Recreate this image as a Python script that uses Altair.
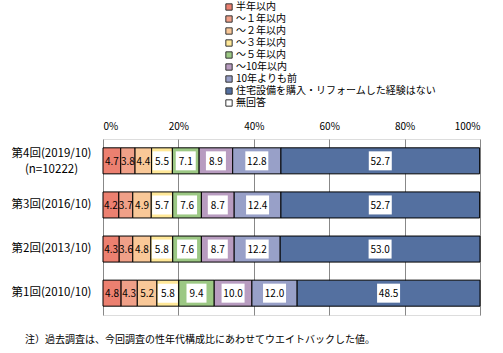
import altair as alt
import pandas as pd

rounds = ["第4回(2019/10)", "第3回(2016/10)", "第2回(2013/10)", "第1回(2010/10)"]
categories = ["半年以内", "～１年以内", "～２年以内", "～３年以内", "～５年以内", "～10年以内",
              "10年よりも前", "住宅設備を購入・リフォームした経験はない", "無回答"]
colors = ["#EC8070", "#F0A088", "#F9C898", "#FFE898", "#9CC884", "#B89CC0",
          "#98A0C8", "#5470A0", "#FFFFFF"]
v4 = [4.7, 3.8, 4.4, 5.5, 7.1, 8.9, 12.8, 52.7, 0.0]
v3 = [4.2, 3.7, 4.9, 5.7, 7.6, 8.7, 12.4, 52.7, 0.0]
v2 = [4.3, 3.6, 4.8, 5.8, 7.6, 8.7, 12.2, 53.0, 0.0]
v1 = [4.8, 4.3, 5.2, 5.8, 9.4, 10.0, 12.0, 48.5, 0.0]
xticks = [0, 20, 40, 60, 80, 100]
note = "注）過去調査は、今回調査の性年代構成比にあわせてウエイトバックした値。"
sub_label = "(n=10222)"

rows = []
for r, vals in zip(rounds, [v4, v3, v2, v1]):
    start = 0.0
    for i, (c, v) in enumerate(zip(categories, vals)):
        rows.append({"round": r, "cat": c, "idx": i, "value": v,
                     "start": start, "end": start + v})
        start += v
df = pd.DataFrame(rows)

FONT = "Noto Sans CJK JP"
PX = 100 / 377.0  # percent per pixel

base = alt.Chart(df).transform_filter("datum.value > 0")

first_test = f"datum.value == '{rounds[0]}'"
yenc = alt.Y("round:N", sort=rounds,
             scale=alt.Scale(paddingInner=0.41, paddingOuter=0.2),
             axis=alt.Axis(title=None, domain=False, ticks=False, labelAlign="center",
                           labelPadding=52, labelFontSize=11.5, labelFont=FONT,
                           labelColor="#000", labelBaseline="middle", labelLineHeight=16,
                           labelOffset=alt.condition(first_test, alt.value(-7), alt.value(0)),
                           labelExpr=f"{first_test} ? ['{rounds[0]}', '{sub_label}'] : datum.value"))

bars = base.mark_bar(stroke="#000", strokeWidth=1).encode(
    x=alt.X("start:Q", scale=alt.Scale(domain=[0, 100], nice=False),
            axis=alt.Axis(orient="top", values=xticks, labelExpr="datum.value + '%'",
                          title=None, domain=False, ticks=False, grid=True,
                          gridColor="#888", gridWidth=1, labelFontSize=10,
                          labelFont=FONT, labelColor="#000", labelPadding=8)),
    x2="end:Q",
    y=yenc,
    color=alt.Color("cat:N", sort=categories,
                    scale=alt.Scale(domain=categories, range=colors),
                    legend=alt.Legend(title=None, orient="none", legendX=121, legendY=-137,
                                      symbolType="square", symbolSize=40,
                                      symbolStrokeColor="#333", symbolStrokeWidth=1,
                                      labelFontSize=10, labelFont=FONT, labelColor="#000",
                                      rowPadding=0, labelLimit=400, symbolOffset=0,
                                      labelOffset=2, padding=0)),
    order=alt.Order("idx:Q"),
)

boxes = base.transform_filter("datum.idx >= 3").transform_calculate(
    hw=f"min((datum.value >= 10 ? 11.5 : 10) * {PX}, datum.value / 2 - {PX})",
    bx1="(datum.start + datum.end) / 2 - datum.hw",
    bx2="(datum.start + datum.end) / 2 + datum.hw",
).mark_bar(color="#FFFFFF", size=19).encode(
    x="bx1:Q", x2="bx2:Q", y=alt.Y("round:N", sort=rounds),
)

labels = base.transform_calculate(
    mid="(datum.start + datum.end) / 2",
    lab="format(datum.value, '.1f')",
).mark_text(font=FONT, fontSize=10, color="#000", baseline="middle", align="center", dy=1).encode(
    x="mid:Q", y=alt.Y("round:N", sort=rounds), text="lab:N",
)

chart = alt.layer(bars, boxes, labels).properties(
    width=377, height=176,
    autosize=alt.AutoSizeParams(type="none"),
    padding={"left": 103, "top": 139, "right": 23, "bottom": 38},
    title=alt.TitleParams(note, orient="bottom", anchor="start", frame="group", dx=-78, offset=20,
                          fontSize=10, font=FONT, fontWeight="normal", color="#000"),
).configure_view(stroke="#000", strokeWidth=1.2).configure(background="#FFFFFF")

chart.save("out.html", embed_options={"renderer": "svg", "actions": False})
